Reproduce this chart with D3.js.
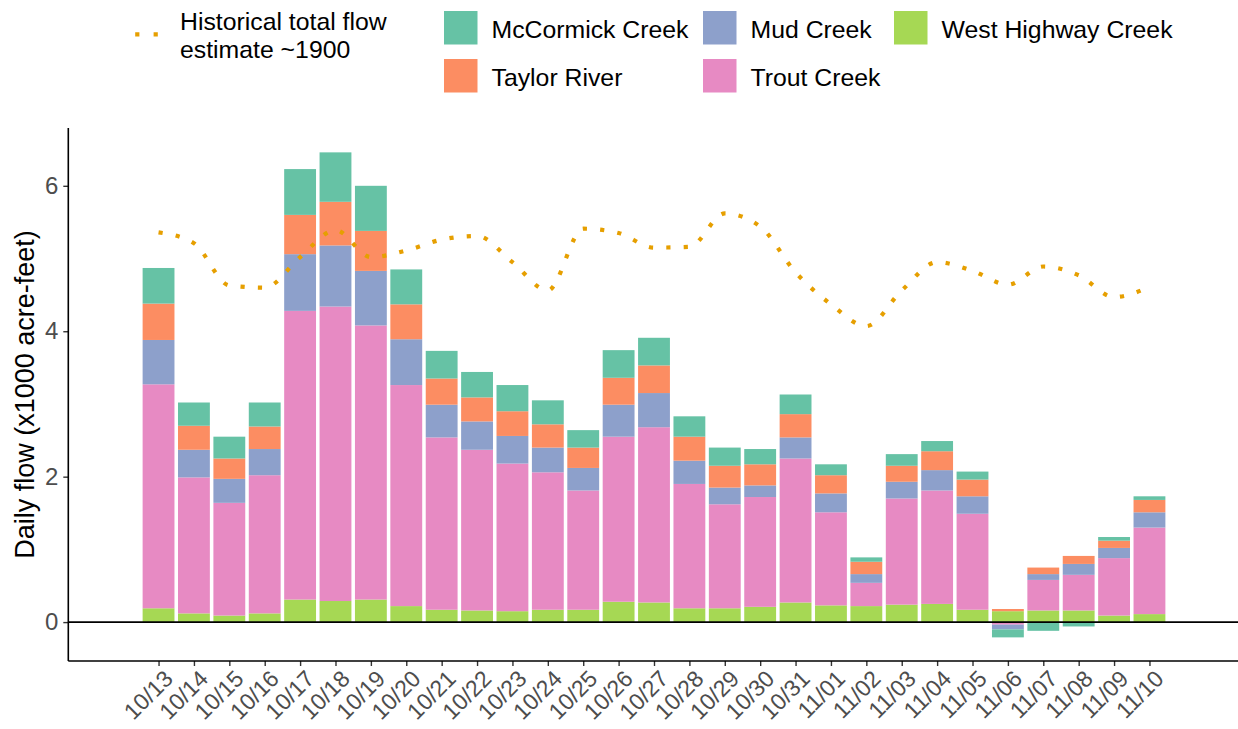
<!DOCTYPE html>
<html>
<head>
<meta charset="utf-8">
<script src="https://cdn.jsdelivr.net/npm/d3@7"></script>
<style>
  html, body { margin: 0; padding: 0; background: #fff; }
  svg { display: block; font-family: "Liberation Sans", Arial, Helvetica, sans-serif; }
</style>
</head>
<body>
<svg id="chart" width="1238" height="729"></svg>
<script>
// Daily flow by creek, thousands of acre-feet
const dates = ["10/13","10/14","10/15","10/16","10/17","10/18","10/19","10/20","10/21","10/22",
  "10/23","10/24","10/25","10/26","10/27","10/28","10/29","10/30","10/31",
  "11/01","11/02","11/03","11/04","11/05","11/06","11/07","11/08","11/09","11/10"];

const westHighway = [0.19,0.12,0.09,0.12,0.31,0.29,0.31,0.22,0.17,0.16,0.15,0.17,0.17,0.28,0.27,0.19,0.19,0.21,0.27,0.23,0.22,0.24,0.25,0.17,0.15,0.16,0.16,0.09,0.11];
const trout       = [3.08,1.87,1.55,1.90,3.97,4.05,3.77,3.04,2.37,2.21,2.03,1.89,1.64,2.27,2.41,1.71,1.43,1.51,1.98,1.28,0.32,1.46,1.56,1.32,-0.035,0.42,0.49,0.79,1.19];
const mud         = [0.61,0.38,0.33,0.36,0.78,0.84,0.75,0.63,0.45,0.39,0.38,0.34,0.31,0.44,0.47,0.32,0.23,0.16,0.29,0.26,0.12,0.23,0.28,0.24,-0.065,0.08,0.15,0.14,0.21];
const taylor      = [0.50,0.33,0.28,0.31,0.54,0.60,0.55,0.48,0.36,0.33,0.34,0.32,0.28,0.37,0.38,0.33,0.30,0.29,0.32,0.25,0.17,0.22,0.26,0.23,0.03,0.09,0.11,0.10,0.17];
const mcCormick   = [0.49,0.32,0.30,0.33,0.63,0.68,0.62,0.48,0.38,0.35,0.36,0.33,0.24,0.38,0.38,0.28,0.25,0.21,0.27,0.15,0.06,0.16,0.14,0.11,-0.11,-0.12,-0.06,0.05,0.05];

// Historical total flow estimate (~1900)
const historical  = [5.36,5.21,4.63,4.60,5.02,5.39,5.02,5.11,5.26,5.31,4.95,4.56,5.41,5.35,5.15,5.16,5.62,5.44,4.81,4.37,4.07,4.56,4.95,4.83,4.64,4.89,4.77,4.47,4.61];

const yTicks = [0, 2, 4, 6];

// stacking order, bottom to top
const seriesNames = ["West Highway Creek","Trout Creek","Mud Creek","Taylor River","McCormick Creek"];
const seriesValues = [westHighway, trout, mud, taylor, mcCormick];
const seriesColors = ["#A6D854","#E78AC3","#8DA0CB","#FC8D62","#66C2A5"];

const rows = dates.map((d, i) => {
  const r = { date: d, idx: i };
  seriesNames.forEach((s, k) => r[s] = seriesValues[k][i]);
  return r;
});

const svg = d3.select("#chart");
const panel = { left: 68.3, right: 1239.7, top: 128, bottom: 661 };

const x = d3.scaleLinear().domain([-2.55, dates.length - 1 + 2.55]).range([panel.left, panel.right]);
const y = d3.scaleLinear().domain([-0.535, 6.795]).range([panel.bottom, panel.top]);
const color = d3.scaleOrdinal().domain(seriesNames).range(seriesColors);
const barW = (x(1) - x(0)) * 0.9;

const stacked = d3.stack().keys(seriesNames).offset(d3.stackOffsetDiverging)(rows);

// bars
const g = svg.append("g");
g.selectAll("g.layer").data(stacked).join("g")
  .attr("class", "layer")
  .attr("fill", d => color(d.key))
  .selectAll("rect").data(d => d).join("rect")
  .attr("x", d => x(d.data.idx) - barW / 2)
  .attr("width", barW)
  .attr("y", d => y(Math.max(d[0], d[1])))
  .attr("height", d => Math.abs(y(d[0]) - y(d[1])));

// zero reference line
svg.append("line")
  .attr("x1", panel.left).attr("x2", panel.right)
  .attr("y1", y(0)).attr("y2", y(0))
  .attr("stroke", "#000").attr("stroke-width", 1.6);

// historical estimate, dotted
const line = d3.line().x((d, i) => x(i)).y(d => y(d)).curve(d3.curveMonotoneX);
svg.append("path")
  .datum(historical)
  .attr("d", line)
  .attr("fill", "none")
  .attr("stroke", "#E69F00")
  .attr("stroke-width", 4.2)
  .attr("stroke-dasharray", "4.2 13.2");

// y axis
const yAxis = d3.axisLeft(y).tickValues(yTicks).tickSize(5).tickPadding(5).tickFormat(d3.format("d"));
const ya = svg.append("g").attr("transform", `translate(${panel.left},0)`).call(yAxis);
ya.select(".domain").remove();
ya.selectAll(".tick line").attr("stroke", "#333").attr("stroke-width", 1.4);
ya.selectAll(".tick text").attr("fill", "#4D4D4D").style("font-size", "24px");
svg.append("line")
  .attr("x1", panel.left).attr("x2", panel.left)
  .attr("y1", panel.top).attr("y2", panel.bottom)
  .attr("stroke", "#000").attr("stroke-width", 1.6);

// x axis
const xAxis = d3.axisBottom(x).tickValues(d3.range(dates.length)).tickSize(5).tickFormat(i => dates[i]);
const xa = svg.append("g").attr("transform", `translate(0,${panel.bottom})`).call(xAxis);
xa.select(".domain").remove();
xa.selectAll(".tick line").attr("stroke", "#333").attr("stroke-width", 1.4);
xa.selectAll(".tick text")
  .attr("fill", "#4D4D4D")
  .style("font-size", "23px")
  .attr("text-anchor", "end")
  .attr("y", 0).attr("dy", "0.75em")
  .attr("transform", "translate(3,7) rotate(-45)");
svg.append("line")
  .attr("x1", panel.left).attr("x2", panel.right)
  .attr("y1", panel.bottom).attr("y2", panel.bottom)
  .attr("stroke", "#000").attr("stroke-width", 1.6);

// y axis title
svg.append("text")
  .attr("transform", `translate(34,${(panel.top + panel.bottom) / 2}) rotate(-90)`)
  .attr("text-anchor", "middle")
  .attr("fill", "#000")
  .style("font-size", "27px")
  .text("Daily flow (x1000 acre-feet)");

// legend
const leg = svg.append("g");
leg.append("line")
  .attr("x1", 135.2).attr("x2", 162).attr("y1", 34.3).attr("y2", 34.3)
  .attr("stroke", "#E69F00").attr("stroke-width", 4.2)
  .attr("stroke-dasharray", "4.2 14.2");
const histLabel = leg.append("text").attr("x", 180).attr("fill", "#000").style("font-size", "24.8px");
histLabel.append("tspan").attr("x", 180).attr("y", 30).text("Historical total flow");
histLabel.append("tspan").attr("x", 180).attr("y", 57.5).text("estimate ~1900");

const legendItems = [
  { name: "McCormick Creek",    kx: 444, ky: 11 },
  { name: "Taylor River",       kx: 444, ky: 59 },
  { name: "Mud Creek",          kx: 703, ky: 11 },
  { name: "Trout Creek",        kx: 703, ky: 59 },
  { name: "West Highway Creek", kx: 894, ky: 11 }
];
const li = leg.selectAll("g.item").data(legendItems).join("g").attr("class", "item");
li.append("rect")
  .attr("x", d => d.kx).attr("y", d => d.ky)
  .attr("width", 33.5).attr("height", 33.5)
  .attr("fill", d => color(d.name));
li.append("text")
  .attr("x", d => d.kx + 47.5).attr("y", d => d.ky + 26.5)
  .attr("fill", "#000").style("font-size", "24.8px")
  .text(d => d.name);
</script>
</body>
</html>
